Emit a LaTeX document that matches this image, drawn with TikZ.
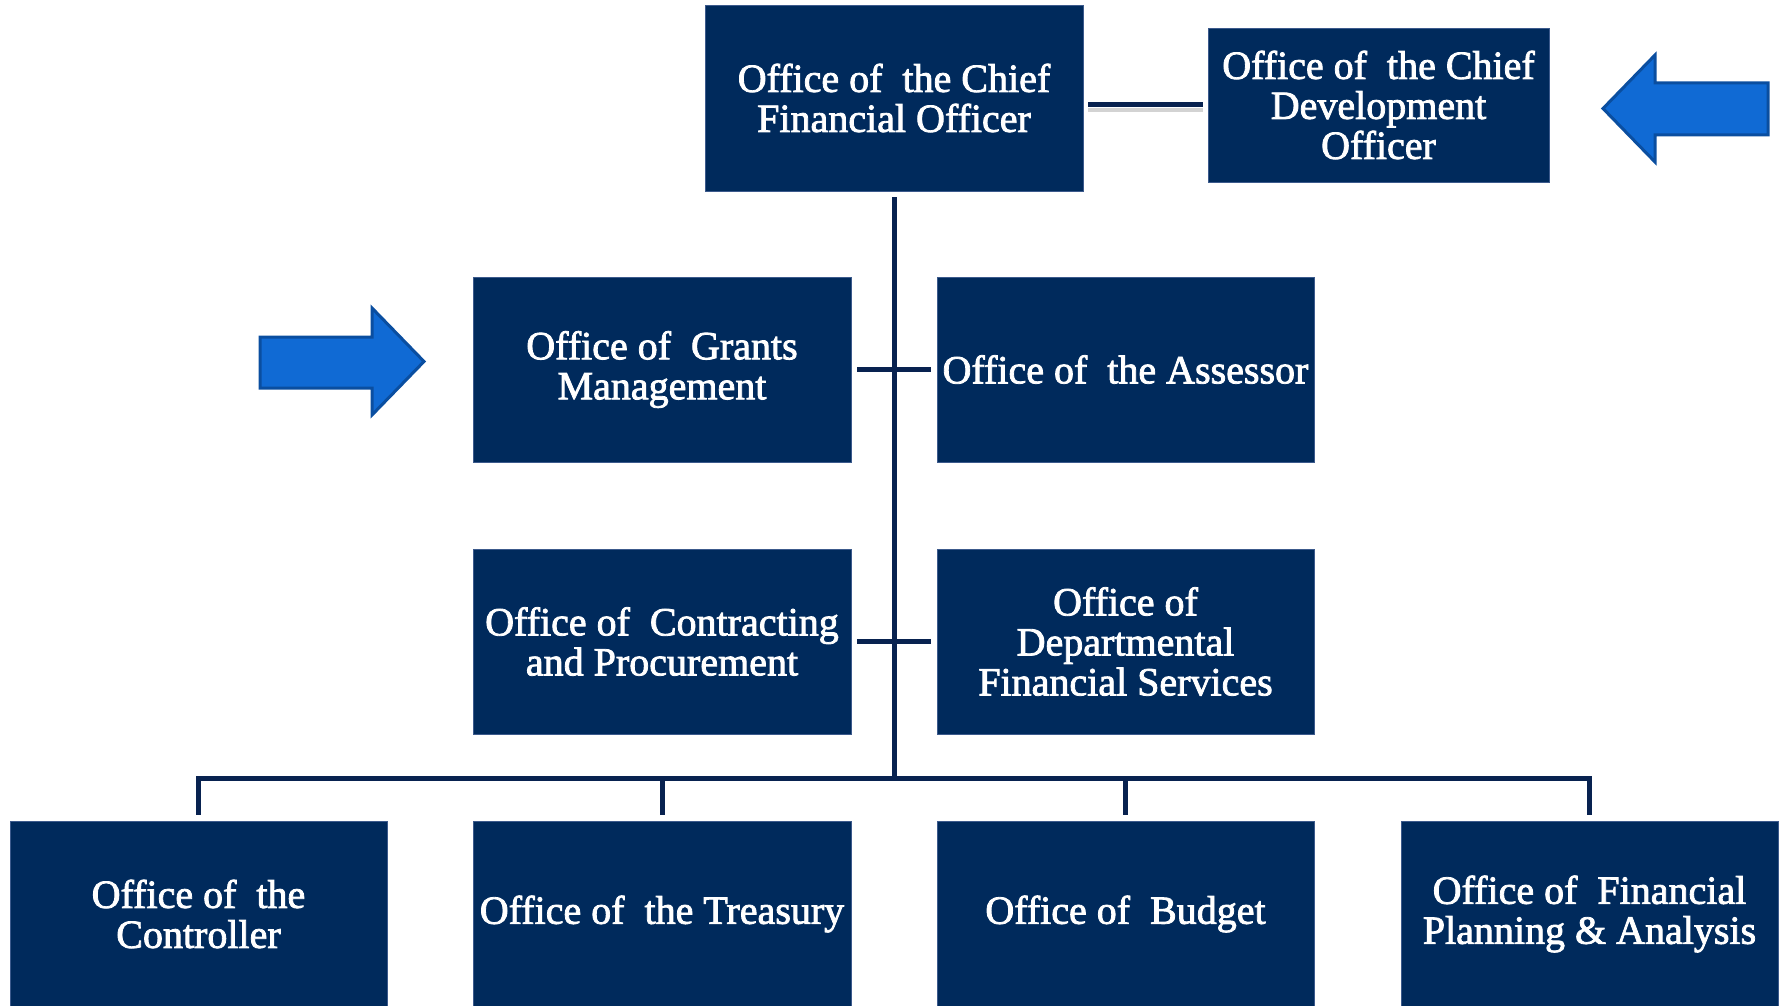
\documentclass[tikz,border=0pt]{standalone}
\usepackage{fontspec}
\setmainfont{Liberation Serif}[FakeBold=2]
\definecolor{navy}{RGB}{0,42,92}
\definecolor{linenavy}{RGB}{8,34,80}
\definecolor{arrowfill}{RGB}{16,106,212}
\definecolor{arrowedge}{RGB}{10,78,160}
\definecolor{boxedge}{RGB}{60,90,140}
\tikzset{
  orgbox/.style={rectangle, fill=navy, draw=boxedge, line width=0.8pt, text=white,
    inner sep=0pt, align=center, font=\fontsize{40}{40}\selectfont},
  conn/.style={draw=linenavy, line width=5pt},
  gapped/.style={shorten <=6pt, shorten >=6pt},
  bigarrow/.style={fill=arrowfill, draw=arrowedge, line width=3pt, line join=miter}
}
\begin{document}
\begin{tikzpicture}[x=1pt,y=-1pt]
\useasboundingbox (0,0) rectangle (1789,1006);
% top row
\node[orgbox, minimum width=378pt, minimum height=186pt] (cfo) at (894,98)
  {Office of~ the Chief\\Financial Officer};
\node[orgbox, minimum width=341pt, minimum height=154pt] (cdo) at (1378.5,105)
  {Office of~ the Chief\\Development\\Officer};
% middle rows
\node[orgbox, minimum width=378pt, minimum height=185pt] (grants) at (662,369.5)
  {Office of~ Grants\\Management};
\node[orgbox, minimum width=377pt, minimum height=185pt] (assessor) at (1125.5,369.5)
  {Office of~ the Assessor};
\node[orgbox, minimum width=378pt, minimum height=185pt] (contract) at (662,641.5)
  {Office of~ Contracting\\and Procurement};
\node[orgbox, minimum width=377pt, minimum height=185pt] (dept) at (1125.5,641.5)
  {Office of\\Departmental\\Financial Services};
% bottom row
\node[orgbox, minimum width=377pt, minimum height=186pt] (ctrl) at (198.5,914)
  {Office of~ the\\Controller};
\node[orgbox, minimum width=378pt, minimum height=186pt] (treas) at (662,914)
  {Office of~ the Treasury};
\node[orgbox, minimum width=377pt, minimum height=186pt] (budget) at (1125.5,914)
  {Office of~ Budget};
\node[orgbox, minimum width=377pt, minimum height=186pt] (fpa) at (1589.5,914)
  {Office of~ Financial\\Planning \& Analysis};
% connectors
\coordinate (bus) at (894,778);
\draw[conn, shorten <=6pt] (cfo.south) -- (bus);
\draw[conn, shorten <=6pt, line join=miter] (ctrl.north) |- (bus);
\draw[conn, shorten <=6pt, line join=miter] (fpa.north) |- (bus);
\draw[conn, shorten <=6pt] (treas.north) -- (treas.north |- bus);
\draw[conn, shorten <=6pt] (budget.north) -- (budget.north |- bus);
\draw[conn, gapped] (grants.east) -- (assessor.west);
\draw[conn, gapped] (contract.east) -- (dept.west);
\draw[draw=gray, line width=4pt, opacity=0.35, shorten <=5pt, shorten >=5pt]
  ([yshift=-5pt]cdo.west) -- ([yshift=-5pt]cdo.west -| cfo.east);
\draw[conn, shorten <=5pt, shorten >=5pt] (cdo.west) -- (cdo.west -| cfo.east);
% block arrows
\draw[bigarrow] (260,337) -- (372,337) -- (372,308) -- (424,361.5) -- (372,415)
  -- (372,388) -- (260,388) -- cycle;
\draw[bigarrow] (1768,83) -- (1655,83) -- (1655,55) -- (1603,108.5) -- (1655,162)
  -- (1655,135) -- (1768,135) -- cycle;
\end{tikzpicture}
\end{document}
